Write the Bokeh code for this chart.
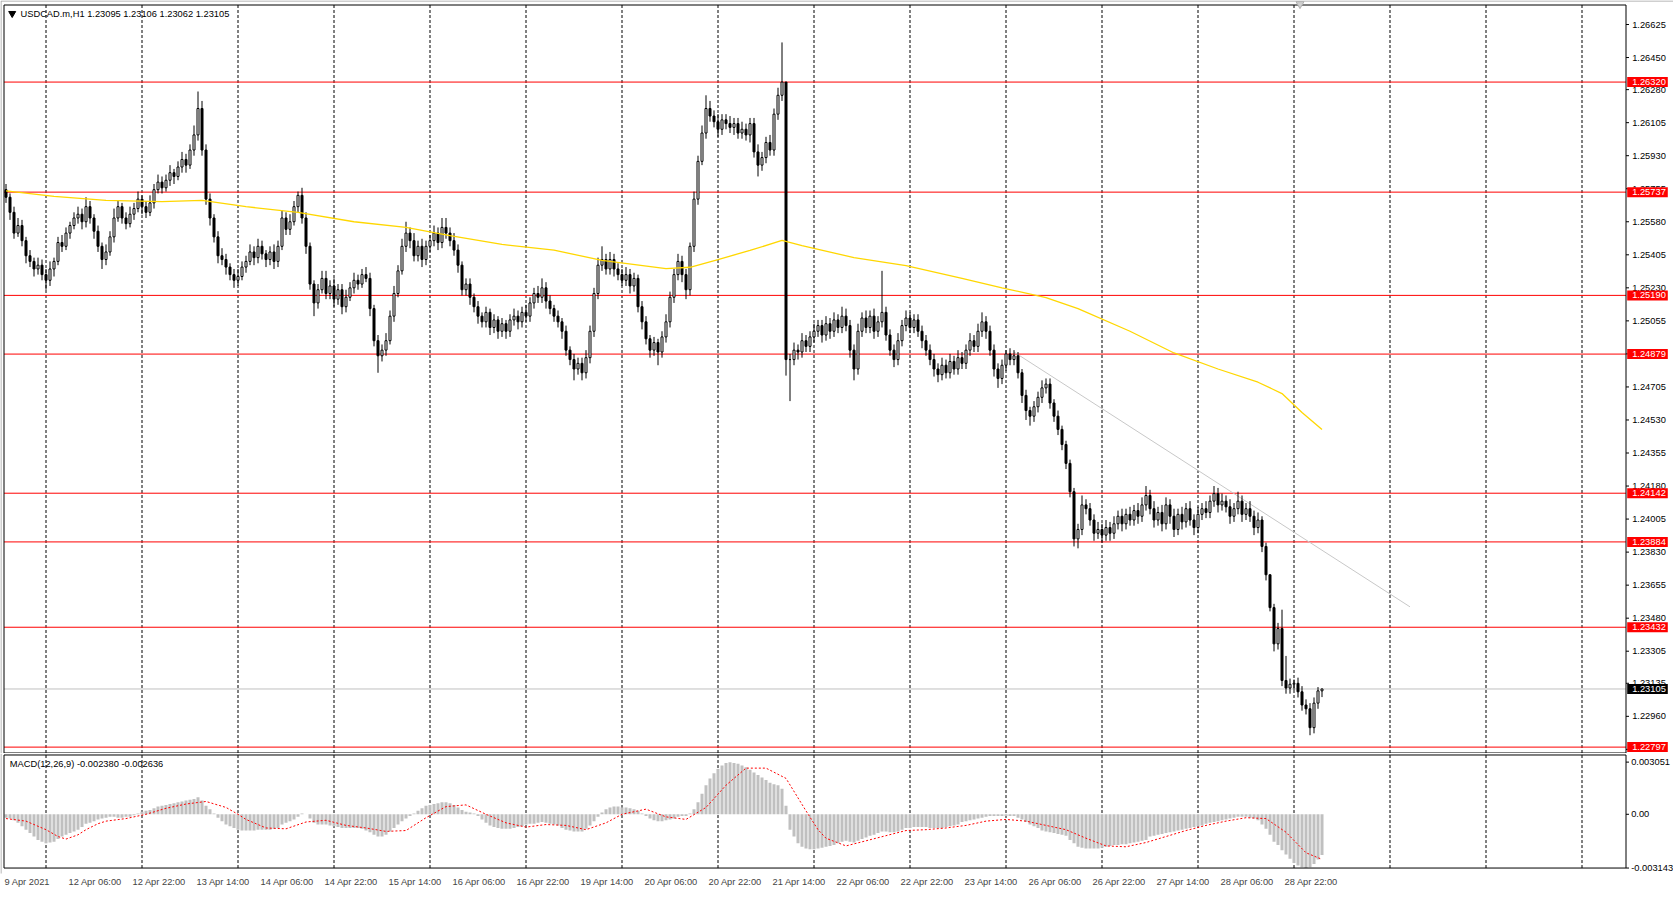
from bokeh.plotting import figure
from bokeh.models import (Range1d, LinearAxis, FixedTicker, CustomJSTickFormatter,
                          Label, ColumnDataSource)
from bokeh.layouts import column
from bokeh.embed import file_html
from bokeh.resources import INLINE
from bokeh.core.properties import value

FONT = "Liberation Sans"
FS = "9.3px"

# ---------------- data ----------------
header_text = "USDCAD.m,H1  1.23095 1.23106 1.23062 1.23105"
macd_head = "MACD(12,26,9) -0.002380 -0.002636"

first_open = 1.2575
close = [
    1.2571, 1.2563, 1.2552, 1.2556, 1.2548, 1.2540, 1.2537, 1.2533, 1.2535, 1.2530,
    1.2527, 1.2533, 1.2537, 1.2547, 1.2545, 1.2552, 1.2556, 1.2560, 1.2562, 1.2558,
    1.2566, 1.2560, 1.2553, 1.2545, 1.2538, 1.2542, 1.2550, 1.2560, 1.2566, 1.2560,
    1.2557, 1.2562, 1.2565, 1.2570, 1.2566, 1.2563, 1.2568, 1.2575, 1.2579, 1.2576,
    1.2580, 1.2584, 1.2582, 1.2587, 1.2591, 1.2588, 1.2596, 1.2604, 1.2618, 1.2596,
    1.2570, 1.2560, 1.2550, 1.2540, 1.2538, 1.2534, 1.2530, 1.2527, 1.2529, 1.2534,
    1.2537, 1.2542, 1.2539, 1.2545, 1.2541, 1.2538, 1.2542, 1.2537, 1.2545, 1.2560,
    1.2554, 1.2558, 1.2566, 1.2572, 1.2560, 1.2545, 1.2525, 1.2515, 1.2522, 1.2528,
    1.2520, 1.2524, 1.2517, 1.2522, 1.2513, 1.2518, 1.2523, 1.2527, 1.2525, 1.2530,
    1.2528, 1.2512, 1.2495, 1.2487, 1.2490, 1.2495, 1.2508, 1.2520, 1.2532, 1.2545,
    1.2552, 1.2548, 1.2540, 1.2545, 1.2538, 1.2545, 1.2548, 1.2552, 1.2547, 1.2555,
    1.2552, 1.2548, 1.2543, 1.2535, 1.2522, 1.2525, 1.2518, 1.2513, 1.2508, 1.2505,
    1.2510, 1.2502, 1.2506, 1.2500, 1.2504, 1.2500, 1.2506, 1.2508, 1.2505, 1.2510,
    1.2508, 1.2515, 1.2520, 1.2518, 1.2523, 1.2516, 1.2512, 1.2508, 1.2505, 1.2500,
    1.2490, 1.2485, 1.2480, 1.2483, 1.2478, 1.2486, 1.2500, 1.2520, 1.2535, 1.2538,
    1.2533, 1.2538, 1.2533, 1.2530, 1.2527, 1.2530, 1.2524, 1.2528, 1.2513, 1.2505,
    1.2496, 1.2490, 1.2494, 1.2489, 1.2497, 1.2505, 1.2518, 1.2530, 1.2537, 1.2530,
    1.2522, 1.2545, 1.2570, 1.2590, 1.2605, 1.2618, 1.2614, 1.2611, 1.2607, 1.2612,
    1.2610, 1.2608, 1.2610, 1.2605, 1.2607, 1.2604, 1.2610, 1.2595, 1.2588, 1.2592,
    1.2600, 1.2596, 1.2615, 1.2625, 1.2632, 1.2485, 1.2485, 1.2490, 1.2489, 1.2495,
    1.2492, 1.2497, 1.2500, 1.2503, 1.2498, 1.2504, 1.2500, 1.2506, 1.2502, 1.2508,
    1.2503, 1.2490, 1.2480, 1.2500, 1.2507, 1.2502, 1.2508, 1.2500, 1.2505, 1.2510,
    1.2498, 1.2490, 1.2485, 1.2495, 1.2503, 1.2507, 1.2502, 1.2506, 1.2500, 1.2495,
    1.2490, 1.2485, 1.2480, 1.2477, 1.2482, 1.2478, 1.2484, 1.2480, 1.2486, 1.2483,
    1.2490, 1.2495, 1.2492, 1.2500, 1.2505, 1.2500, 1.2490, 1.2480, 1.2475, 1.2482,
    1.2488, 1.2485, 1.2487, 1.2478, 1.2466, 1.2458, 1.2455, 1.2460, 1.2465, 1.2470,
    1.2472, 1.2462, 1.2455, 1.2448, 1.2440, 1.2430, 1.2415, 1.2390, 1.2395, 1.2408,
    1.2406, 1.2400, 1.2393, 1.2395, 1.2392, 1.2396, 1.2393, 1.2398, 1.2402, 1.2398,
    1.2403, 1.2400, 1.2405, 1.2402, 1.2408, 1.2413, 1.2406, 1.2400, 1.2404, 1.2398,
    1.2408, 1.2402, 1.2395, 1.2403, 1.2399, 1.2406, 1.2400, 1.2396, 1.2403, 1.2406,
    1.2404, 1.2410, 1.2414, 1.2408, 1.2410, 1.2407, 1.2402, 1.2406, 1.2410, 1.2403,
    1.2406, 1.2402, 1.2396, 1.2400, 1.2386, 1.2371, 1.23536, 1.23344, 1.23425, 1.2315,
    1.2311, 1.2313, 1.23135, 1.2309, 1.2302, 1.2300, 1.2290, 1.2303, 1.23095, 1.23105,
]
# wick lengths above / below the body, in pips (0.0001)
up_wick = [
    3, 2, 3, 4, 3, 2, 3, 2, 4, 3,
    3, 4, 2, 3, 4, 3, 2, 3, 4, 3,
    5, 3, 2, 3, 2, 4, 3, 5, 3, 2,
    3, 4, 3, 4, 2, 3, 4, 3, 4, 3,
    3, 4, 2, 3, 4, 3, 3, 5, 9, 4,
    3, 3, 2, 3, 4, 3, 2, 3, 4, 3,
    3, 4, 3, 4, 3, 2, 3, 4, 3, 4,
    3, 4, 3, 2, 4, 3, 2, 2, 3, 4,
    4, 3, 4, 3, 3, 4, 3, 4, 3, 3,
    4, 3, 2, 3, 3, 4, 3, 4, 3, 4,
    6, 3, 4, 3, 4, 3, 3, 4, 3, 5,
    5, 3, 4, 3, 2, 3, 3, 2, 3, 2,
    3, 2, 3, 2, 3, 2, 3, 4, 3, 3,
    4, 3, 3, 4, 5, 3, 3, 2, 3, 2,
    3, 2, 3, 3, 3, 4, 3, 3, 4, 7,
    3, 4, 3, 3, 3, 4, 3, 3, 2, 3,
    3, 2, 3, 2, 3, 4, 3, 3, 4, 3,
    3, 2, 4, 3, 4, 7, 4, 3, 4, 3,
    3, 4, 3, 3, 4, 3, 3, 3, 4, 3,
    3, 4, 3, 4, 21, 0, 3, 4, 3, 4,
    3, 3, 4, 3, 3, 4, 3, 4, 3, 5,
    4, 3, 3, 4, 3, 4, 3, 4, 3, 22,
    3, 3, 3, 4, 3, 4, 3, 3, 3, 3,
    3, 3, 3, 3, 4, 3, 4, 3, 4, 3,
    3, 4, 3, 4, 5, 3, 3, 3, 3, 3,
    2, 3, 3, 2, 2, 3, 2, 3, 3, 4,
    3, 3, 2, 3, 2, 2, 2, 2, 3, 5,
    3, 3, 3, 4, 3, 4, 3, 4, 3, 4,
    3, 4, 3, 4, 4, 5, 3, 4, 3, 4,
    4, 3, 4, 3, 4, 3, 4, 3, 4, 3,
    4, 3, 4, 3, 4, 3, 4, 3, 5, 3,
    3, 4, 3, 4, 2, 2, 0, 2, 3, 10,
    13, 3, 2, 3, 3, 3, 3, 3, 2, 0.1,
]
dn_wick = [
    3, 4, 3, 2, 3, 4, 3, 4, 3, 3,
    5, 3, 4, 2, 3, 2, 3, 2, 3, 4,
    3, 3, 4, 3, 5, 3, 2, 3, 2, 3,
    3, 2, 3, 2, 4, 3, 2, 3, 2, 3,
    2, 3, 4, 2, 3, 4, 2, 3, 3, 3,
    3, 4, 3, 4, 3, 4, 3, 4, 3, 2,
    3, 2, 4, 3, 3, 4, 3, 4, 3, 2,
    3, 3, 2, 3, 3, 4, 3, 7, 3, 2,
    3, 3, 4, 3, 4, 3, 2, 3, 3, 2,
    2, 4, 3, 9, 3, 3, 2, 3, 2, 2,
    3, 4, 3, 3, 4, 3, 3, 3, 4, 3,
    3, 3, 3, 4, 3, 3, 4, 3, 4, 3,
    3, 4, 3, 4, 3, 4, 3, 3, 4, 3,
    3, 3, 3, 3, 3, 4, 3, 3, 3, 4,
    3, 3, 6, 3, 4, 3, 3, 3, 3, 3,
    3, 3, 4, 3, 3, 3, 4, 3, 3, 4,
    3, 4, 3, 7, 3, 3, 3, 3, 3, 4,
    5, 3, 3, 3, 2, 3, 3, 3, 4, 3,
    3, 3, 4, 3, 3, 3, 4, 3, 6, 3,
    3, 3, 3, 3, 3, 8.5, 22, 3, 4, 3,
    3, 3, 3, 3, 4, 3, 4, 3, 3, 3,
    3, 4, 6, 3, 3, 3, 3, 4, 3, 3,
    3, 3, 4, 3, 3, 3, 3, 3, 3, 4,
    3, 3, 4, 4, 3, 3, 3, 3, 3, 3,
    3, 3, 3, 3, 3, 4, 3, 4, 5, 3,
    3, 3, 3, 3, 4, 5, 5, 3, 3, 3,
    3, 3, 3, 3, 3, 3, 3, 4, 5, 3,
    3, 3, 4, 3, 4, 3, 4, 3, 3, 4,
    3, 3, 3, 4, 3, 3, 3, 4, 3, 4,
    3, 4, 4, 3, 4, 3, 3, 4, 3, 3,
    3, 3, 3, 4, 3, 3, 4, 3, 3, 4,
    3, 3, 4, 3, 3, 3, 2, 4, 3, 3,
    3, 3, 3, 3, 3, 3, 4, 3, 3, 3.3,
]
# MACD main line (histogram), units of 0.0001
macd_hist = [
    -2, -2.5, -3.5, -5, -7, -9, -11, -13, -15, -16,
    -17, -16.5, -16, -14.5, -13, -12, -11, -10, -9, -7.5,
    -5.5, -5, -4, -3, -2.5, -2, -1.5, -1.5, -2, -2,
    -1.5, -1.5, -0.5, 0.5, 1.5, 2, 2.5, 3.5, 4.5, 5,
    5.5, 6, 6.5, 7, 7.5, 8, 8.5, 9, 10, 8,
    5, 3, 0.5, -2, -4, -6, -7, -8, -9, -9.5,
    -9.5, -9.5, -9.5, -9, -9, -9, -9, -8.5, -8, -6,
    -5, -4, -3, -1.5, 0.5, 0, -2.5, -5, -6, -6,
    -6, -6.5, -7, -7.5, -8, -8, -8, -8, -8, -8.5,
    -9.5, -10.5, -12, -13, -13, -12, -10, -8, -6, -4,
    -2.5, -1, 0.5, 2, 3.5, 5, 5.5, 6, 6.5, 7,
    7, 6.5, 5.5, 4, 2.5, 1.5, 1, 0.5, -1, -3,
    -5, -6.5, -7.5, -8, -8.5, -8.5, -8.5, -8, -7.5, -7,
    -6, -5.5, -5.5, -5, -4.5, -5, -5.5, -6, -6.5, -8,
    -9, -9.5, -10, -10, -10, -8.5, -6.5, -4, -1.5, 1,
    3, 4, 4.5, 4.5, 4, 4, 3.5, 3, 2, 0.5,
    -1, -2.5, -3.5, -4, -4, -3.5, -3, -2.5, -1.5, -1,
    -1, 0.5, 3, 7, 12, 17, 21, 24, 26.5, 28.5,
    30, 30.5, 30, 29.5, 28.5, 27.5, 26, 24.5, 23, 21.5,
    20, 18.5, 17.5, 17, 15, 5, -9, -13, -17, -19,
    -20, -20.5, -20.5, -20, -19.5, -19, -18.5, -18, -17, -16,
    -15.5, -16, -16.5, -15.5, -14.5, -13.5, -12.5, -12, -11, -10,
    -10, -10.5, -10.5, -10, -9, -8, -8, -7.5, -7.5, -7.5,
    -7.5, -8, -8, -8, -8, -7.5, -7, -6.5, -6, -4.5,
    -4, -3.5, -3, -2.5, -2, -1.5, -1, -1, -1, -1,
    -1, -1, -1, -2, -3, -4.5, -6, -7, -8, -9.5,
    -10, -10.5, -11, -11.5, -12, -12.5, -15, -17, -19, -19.5,
    -20, -20, -20, -20, -19.5, -19, -18.5, -18, -18, -17.5,
    -17.5, -17, -16.5, -16, -15.5, -15, -13, -12.5, -12, -11.5,
    -11, -10.5, -10, -9.5, -9, -8.5, -8, -7.5, -7, -6.5,
    -5.5, -5, -4.5, -4, -3.5, -3, -2.5, -2, -1.5, -1.5,
    -1.5, -2, -2.5, -3.5, -6, -8.5, -12, -16, -18, -21,
    -23.5, -26, -28.5, -30, -31, -31.43, -31, -29, -26.5, -23.8,
]
# signal line (read at selected bars), units of 0.0001
sig_bar = [0, 5, 10, 13, 15, 18, 20, 23, 25, 30, 35, 40, 45, 50, 55, 58, 60, 65, 70, 75,
           80, 85, 90, 95, 100, 105, 110, 115, 120, 125, 130, 135, 140, 145, 150, 154, 160,
           165, 170, 175, 180, 185, 190, 195, 200, 203, 205, 210, 215, 220, 225, 230, 235,
           240, 245, 250, 255, 260, 265, 270, 275, 280, 285, 290, 295, 300, 305, 310, 315,
           320, 325, 329]
sig_val = [-2.5, -4, -9, -13, -14.5, -12, -9, -5.5, -4, -2.5, 0, 3.5, 6, 7.5, 4, 0, -3, -8,
           -8.5, -4.5, -3.5, -6.5, -8, -10, -9.5, -2, 4.5, 5.5, 0, -5, -7.5, -6, -6.5, -9,
           -5, 0, 3, -1.5, -3, 4, 17, 27, 27, 21, 2, -9, -14, -18.5, -15.5, -12.5, -9.5,
           -9, -8, -6.5, -4, -3, -4, -6.5, -9, -14, -18.5, -19, -16.5, -13, -9.5, -6.5, -4,
           -2, -2.5, -10.5, -22.5, -26.36]
# yellow moving average (read at selected bars)
ma_bar = [0, 12, 25, 39, 49, 60, 73, 87, 100, 111, 124, 137, 149, 165, 171, 178, 186, 194,
          199, 212, 225, 239, 249, 260, 268, 281, 292, 303, 313, 319, 324, 329]
ma_val = [1.25744, 1.25715, 1.25693, 1.25687, 1.25693, 1.2566, 1.2563, 1.2558, 1.2555,
          1.25506, 1.2546, 1.2543, 1.25375, 1.25332, 1.25339, 1.2538, 1.25428, 1.25481,
          1.25454, 1.2539, 1.25348, 1.2528, 1.2523, 1.25178, 1.2512, 1.2500, 1.24885,
          1.2480, 1.2473, 1.2467, 1.2457, 1.2448]
trend_bar = [252, 351]
trend_val = [1.2489, 1.2354]
levels = [1.26320, 1.25737, 1.25190, 1.24879, 1.24142, 1.23884, 1.23432, 1.22797]
level_labels = ["1.26320", "1.25737", "1.25190", "1.24879", "1.24142", "1.23884",
                "1.23432", "1.22797"]
bid = 1.23105
bid_label = "1.23105"
price_ticks = [1.26625, 1.26450, 1.26280, 1.26105, 1.25930, 1.25755, 1.25580, 1.25405,
               1.25230, 1.25055, 1.24880, 1.24705, 1.24530, 1.24355, 1.24180, 1.24005,
               1.23830, 1.23655, 1.23480, 1.23305, 1.23135, 1.22960, 1.22785]
macd_ticks = [0.003051, 0.0, -0.003143]
macd_tick_labels = ["0.003051", "0.00", "-0.003143"]
time_labels = ["9 Apr 2021", "12 Apr 06:00", "12 Apr 22:00", "13 Apr 14:00", "14 Apr 06:00",
               "14 Apr 22:00", "15 Apr 14:00", "16 Apr 06:00", "16 Apr 22:00", "19 Apr 14:00",
               "20 Apr 06:00", "20 Apr 22:00", "21 Apr 14:00", "22 Apr 06:00", "22 Apr 22:00",
               "23 Apr 14:00", "26 Apr 06:00", "26 Apr 22:00", "27 Apr 14:00", "28 Apr 06:00",
               "28 Apr 22:00"]
BARS_PER_LABEL = 16
BARS_PER_GRID = 24
FIRST_GRID_BAR = 10
SHIFT_MARK_BAR = 323.5   # MT4 chart-shift marker at the top

# ---------------- derived OHLC ----------------
n = len(close)
opens = [first_open] + close[:-1]
highs = [max(o, c) + u * 1e-4 for o, c, u in zip(opens, close, up_wick)]
lows = [min(o, c) - d * 1e-4 for o, c, d in zip(opens, close, dn_wick)]
idx = list(range(n))
bull = [i for i in idx if close[i] >= opens[i]]
bear = [i for i in idx if close[i] < opens[i]]

# ---------------- geometry (pixels from the top-left of the layout) ----------------
PX_PER_BAR = 4.0
BAR0_PX = 5.5
PX_PER_PRICE = 18877.0
REF_PRICE, REF_PX = 1.26625, 24.0
AXIS_PX = 1625.5
LEFT_PX = 3.5
FIG_W = 1673
MAIN_H = 753
MACD_H = 136
MACD_AX_H = 15            # room for the time labels under the MACD frame
MACD_BORDER_PX = 115.5    # bottom border of the MACD window, from its top
MACD_K = 0.000058
ZERO_PX = 814.3 - MAIN_H      # zero line, relative to the MACD figure top


def bx(px):
    return (px - BAR0_PX) / PX_PER_BAR


def py(px):
    return REF_PRICE - (px - REF_PX) / PX_PER_PRICE


def my(px):
    return (ZERO_PX - px) * MACD_K


x_rng = (bx(0), bx(FIG_W))
x_left = bx(LEFT_PX)
x_axis = bx(AXIS_PX)
tick_x1 = bx(AXIS_PX + 3)
lab_x = bx(1631.7)
mlab_x = bx(1630.7)
grid_locs = list(range(FIRST_GRID_BAR, int(x_axis), BARS_PER_GRID))


def base_fig(h, yr, bottom):
    f = figure(width=FIG_W, height=h, x_range=Range1d(*x_rng), y_range=Range1d(*yr),
               output_backend="svg", toolbar_location=None,
               x_axis_location=None, y_axis_location=None,
               min_border_left=0, min_border_right=0, min_border_top=0,
               min_border_bottom=bottom,
               background_fill_color="white", border_fill_color="white")
    f.outline_line_color = None
    f.grid.visible = False
    return f


# ================= main price panel =================
p = base_fig(MAIN_H, (py(MAIN_H), py(0)), 0)
yb_top, yb_bot = py(4.5), py(752.5)

p.segment(x0=grid_locs, x1=grid_locs, y0=[yb_bot] * len(grid_locs),
          y1=[yb_top] * len(grid_locs), line_color="black", line_dash="3 2", line_width=1)
p.segment(x0=[x_left] * len(levels), x1=[x_axis] * len(levels), y0=levels, y1=levels,
          line_color="#FF0000", line_width=1)
p.segment(x0=[x_left], x1=[x_axis], y0=[bid], y1=[bid], line_color="#C0C0C0",
          line_width=1)
p.line(trend_bar, trend_val, line_color="#C8C8C8", line_width=1)

src_all = ColumnDataSource(dict(x=idx, high=highs, low=lows))
p.segment(x0="x", y0="low", x1="x", y1="high", source=src_all, line_color="black",
          line_width=1)
src_bull = ColumnDataSource(dict(x=bull, top=[close[i] for i in bull],
                                 bottom=[opens[i] for i in bull]))
src_bear = ColumnDataSource(dict(x=bear, top=[opens[i] for i in bear],
                                 bottom=[close[i] for i in bear]))
p.vbar(x="x", width=0.5, top="top", bottom="bottom", source=src_bull,
       fill_color="white", line_color="black", line_width=1)
p.vbar(x="x", width=0.5, top="top", bottom="bottom", source=src_bear,
       fill_color="black", line_color="black", line_width=1)
p.line(ma_bar, ma_val, line_color="#FFD700", line_width=1.3)

# chart border and price axis line
p.segment(x0=[x_left, x_left, x_left, x_axis], x1=[x_axis, x_axis, x_left, x_axis],
          y0=[yb_top, yb_bot, yb_bot, yb_bot], y1=[yb_top, yb_bot, yb_top, yb_top],
          line_color="black", line_width=1)
# window edge
p.segment(x0=[bx(0.5), bx(0.5)], x1=[bx(FIG_W), bx(0.5)], y0=[py(0.5), py(0.5)],
          y1=[py(0.5), py(MAIN_H)], line_color="#A0A0A0", line_width=1)
# chart-shift marker
p.scatter([SHIFT_MARK_BAR], [py(3.5)], marker="inverted_triangle", size=8,
          fill_color="#D0D0D0", line_color="#B0B0B0")

# price scale
p.segment(x0=[x_axis] * len(price_ticks), x1=[tick_x1] * len(price_ticks),
          y0=price_ticks, y1=price_ticks, line_color="black", line_width=1)
p.text(x=[lab_x] * len(price_ticks), y=price_ticks,
       text=["%.5f" % t for t in price_ticks], text_font=value(FONT),
       text_font_size=value(FS), text_color="black", text_align="left",
       text_baseline="middle")

tag_h = 10 / PX_PER_PRICE
tag_l, tag_r = bx(1626.7), bx(1667.3)
tags = levels + [bid]
tag_txt = level_labels + [bid_label]
tag_col = ["#FF0000"] * len(levels) + ["black"]
p.quad(left=[tag_l] * len(tags), right=[tag_r] * len(tags),
       top=[t + tag_h / 2 for t in tags], bottom=[t - tag_h / 2 for t in tags],
       fill_color=tag_col, line_color=None)
p.text(x=[lab_x] * len(tags), y=tags, text=tag_txt, text_font=value(FONT),
       text_font_size=value(FS), text_color="white", text_align="left",
       text_baseline="middle")

p.scatter([bx(11.7)], [py(13.0)], marker="inverted_triangle", size=7, color="black")
p.add_layout(Label(x=bx(20), y=py(13.3), text=header_text, text_font=FONT,
                   text_font_size=FS, text_color="black", text_baseline="middle"))

# ================= MACD panel =================
m = base_fig(MACD_H, (my(MACD_H - MACD_AX_H), my(0)), MACD_AX_H)
mb_top, mb_bot = my(1.5), my(MACD_BORDER_PX)

m.segment(x0=grid_locs, x1=grid_locs, y0=[mb_bot] * len(grid_locs),
          y1=[mb_top] * len(grid_locs), line_color="black", line_dash="3 2", line_width=1)
hist = [v * 1e-4 for v in macd_hist]
m.vbar(x=idx, width=0.75, top=hist, bottom=0, fill_color="#C0C0C0", line_color=None)
m.line(sig_bar, [v * 1e-4 for v in sig_val], line_color="#FF0000", line_width=1,
       line_dash="2 2")

m.segment(x0=[x_left, x_left, x_left, x_axis], x1=[x_axis, x_axis, x_left, x_axis],
          y0=[mb_top, mb_bot, mb_bot, mb_bot], y1=[mb_top, mb_bot, mb_top, mb_top],
          line_color="black", line_width=1)
m.segment(x0=[bx(0.5)], x1=[bx(0.5)], y0=[my(0)], y1=[my(MACD_H)],
          line_color="#A0A0A0", line_width=1)

m.segment(x0=[x_axis] * 3, x1=[tick_x1] * 3, y0=macd_ticks, y1=macd_ticks,
          line_color="black", line_width=1)
m.text(x=[mlab_x] * 3, y=macd_ticks, text=macd_tick_labels, text_font=value(FONT),
       text_font_size=value(FS), text_color="black", text_align="left",
       text_baseline="middle")

m.add_layout(Label(x=bx(9.3), y=my(763.3 - MAIN_H), text=macd_head, text_font=FONT,
                   text_font_size=FS, text_color="black", text_baseline="middle"))

# time axis: MT4 labels start at the bar; Bokeh centres them, so shift by half a width
ARIAL = {"0": .556, "1": .556, "2": .556, "3": .556, "4": .556, "5": .556, "6": .556,
         "7": .556, "8": .556, "9": .556, " ": .278, ":": .278, "A": .667, "p": .556,
         "r": .333}
font_px = 9.3
t_pos = []
for k, lab in enumerate(time_labels):
    w = sum(ARIAL.get(ch, .556) for ch in lab) * font_px
    start_px = max(BAR0_PX + PX_PER_BAR * k * BARS_PER_LABEL - 1.5, 4.0)
    t_pos.append(round(bx(start_px + w / 2), 4))

tax = LinearAxis(ticker=FixedTicker(ticks=t_pos),
                 formatter=CustomJSTickFormatter(
                     args=dict(tpos=t_pos, tlab=time_labels),
                     code="""
const i = tpos.findIndex(t => Math.abs(t - tick) < 1e-6);
return i >= 0 ? tlab[i] : "";
"""))
tax.major_tick_out = 0
tax.major_tick_in = 0
tax.minor_tick_out = 0
tax.minor_tick_in = 0
tax.axis_line_color = None
tax.major_label_standoff = 3
tax.major_label_text_font = FONT
tax.major_label_text_font_size = FS
m.add_layout(tax, "below")

layout = column(p, m, spacing=0)

open("out.html", "w").write(file_html(layout, INLINE))
